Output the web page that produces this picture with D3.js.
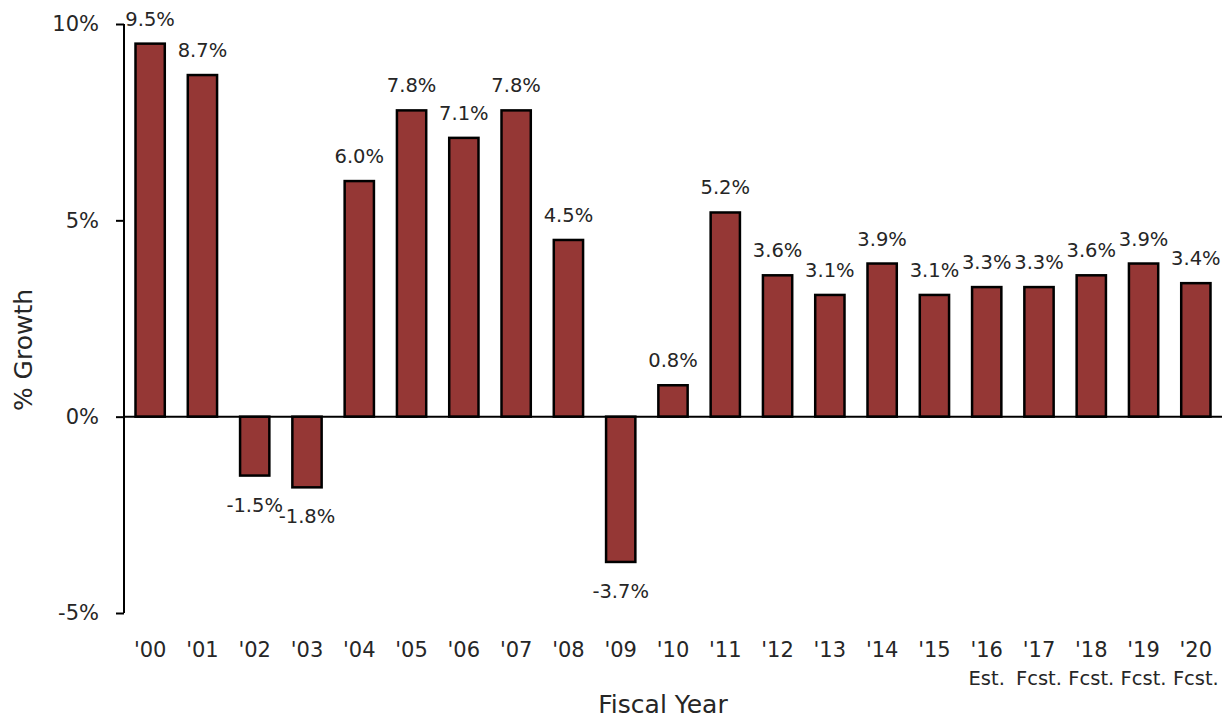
<!DOCTYPE html>
<html>
<head>
<meta charset="utf-8">
<script src="https://cdn.jsdelivr.net/npm/d3@7"></script>
<style>
  body { margin: 0; background: #fff; }
  svg { display: block; }
  text { font-family: "DejaVu Sans", sans-serif; fill: #262626; }
</style>
</head>
<body>
<svg id="chart" width="1230" height="722"></svg>
<script>
const years = ["'00","'01","'02","'03","'04","'05","'06","'07","'08","'09","'10","'11","'12","'13","'14","'15","'16","'17","'18","'19","'20"];
const growth = [9.5, 8.7, -1.5, -1.8, 6.0, 7.8, 7.1, 7.8, 4.5, -3.7, 0.8, 5.2, 3.6, 3.1, 3.9, 3.1, 3.3, 3.3, 3.6, 3.9, 3.4];
const notes = ["","","","","","","","","","","","","","","","","Est.","Fcst.","Fcst.","Fcst.","Fcst."];
const yTicks = [-5, 0, 5, 10];

const svg = d3.select("#chart");
const x = d3.scaleBand().domain(years).range([124, 1222]).paddingInner(0.44).paddingOuter(0.22);
const y = d3.scaleLinear().domain([-5, 10]).range([613, 24]);

// bars
svg.append("g").selectAll("rect").data(growth).join("rect")
  .attr("x", (d, i) => x(years[i]))
  .attr("width", x.bandwidth())
  .attr("y", d => y(Math.max(0, d)))
  .attr("height", d => Math.abs(y(d) - y(0)))
  .attr("fill", "#953735")
  .attr("stroke", "#000")
  .attr("stroke-width", 2.5);

// y axis
const yAxis = svg.append("g").attr("transform", "translate(124,0)")
  .call(d3.axisLeft(y).tickValues(yTicks).tickSize(8).tickPadding(17).tickFormat(d => d + "%"));
yAxis.select(".domain").attr("stroke", "#000").attr("stroke-width", 2).attr("d", `M0,${y(-5)}V${y(10)}`);
yAxis.selectAll(".tick line").attr("stroke", "#000").attr("stroke-width", 2);
yAxis.selectAll(".tick text").style("font-size", "21px").style("font-family", "DejaVu Sans").attr("fill", "#262626");

// zero line (category axis)
const xAxis = svg.append("g").attr("transform", `translate(0,${y(0)})`)
  .call(d3.axisBottom(x).tickSize(0).tickFormat(""));
xAxis.select(".domain").attr("stroke", "#000").attr("stroke-width", 2).attr("d", "M124,0H1222");

// category labels
svg.append("g").selectAll("text").data(years).join("text")
  .attr("x", d => x(d) + x.bandwidth() / 2)
  .attr("y", 657)
  .attr("text-anchor", "middle")
  .style("font-size", "21px")
  .text(d => d);

svg.append("g").selectAll("text").data(notes).join("text")
  .attr("x", (d, i) => x(years[i]) + x.bandwidth() / 2)
  .attr("y", 685)
  .attr("text-anchor", "middle")
  .style("font-size", "19.5px")
  .text(d => d);

// data labels
svg.append("g").selectAll("text").data(growth).join("text")
  .attr("x", (d, i) => x(years[i]) + x.bandwidth() / 2)
  .attr("y", d => d >= 0 ? y(d) - 18 : y(d) + 36)
  .attr("text-anchor", "middle")
  .style("font-size", "19.5px")
  .text(d => d.toFixed(1) + "%");

// axis titles
svg.append("text")
  .attr("x", 663).attr("y", 713)
  .attr("text-anchor", "middle")
  .style("font-size", "25px")
  .text("Fiscal Year");

svg.append("text")
  .attr("transform", "translate(32,350) rotate(-90)")
  .attr("text-anchor", "middle")
  .style("font-size", "25px")
  .text("% Growth");
</script>
</body>
</html>
